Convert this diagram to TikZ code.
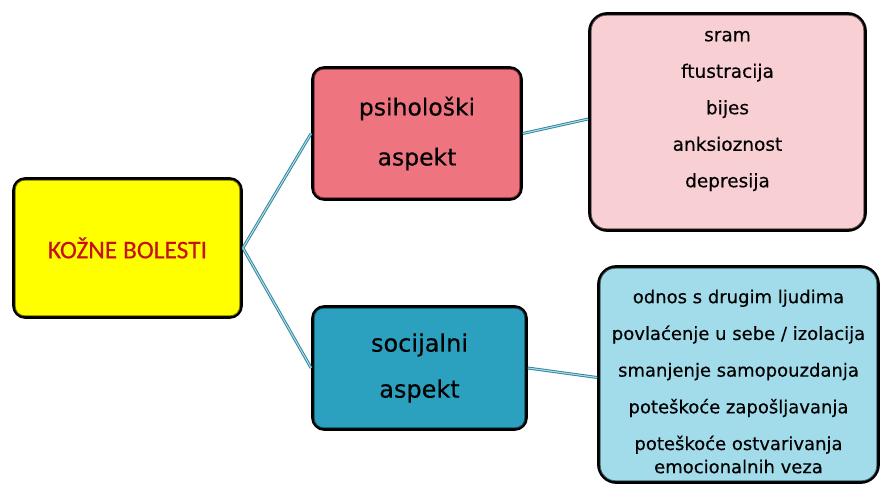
\documentclass[tikz,border=0pt]{standalone}
\usepackage{fontspec}
\setmainfont{DejaVu Sans}[FakeBold=0.4]
\newfontfamily\carl{Carlito}[FakeBold=0.3]
\definecolor{kbY}{RGB}{255,255,0}
\definecolor{kbYd}{RGB}{110,110,0}
\definecolor{kbR}{RGB}{196,18,24}
\definecolor{psiC}{RGB}{238,117,128}
\definecolor{psiD}{RGB}{110,45,50}
\definecolor{psiL}{RGB}{248,208,212}
\definecolor{psiLd}{RGB}{110,85,88}
\definecolor{socC}{RGB}{44,161,191}
\definecolor{socD}{RGB}{18,72,86}
\definecolor{socL}{RGB}{162,220,234}
\definecolor{socLd}{RGB}{60,100,110}
\definecolor{connD}{RGB}{40,130,155}
\definecolor{connL}{RGB}{175,218,230}
\newcommand\innerb[3]{\draw[#2, line width=0.8pt, rounded corners=#3] ([shift={(3.2pt,3.2pt)}]#1.south west) rectangle ([shift={(-3.2pt,-3.2pt)}]#1.north east);}
\begin{document}
\begin{tikzpicture}[x=1pt,y=-1pt,
  box/.style={draw=black, line width=2.8pt, rounded corners=#1, inner sep=0pt, align=center, text=black},
  conn/.style={draw=connD, line width=0.9pt, double=connL, double distance=1.1pt},
  listtxt/.style={align=center, inner sep=0pt, text=black}
]
\useasboundingbox (0,0) rectangle (884,486);
% boxes
\node[box=12pt, fill=kbY, minimum width=228pt, minimum height=139pt,
  font=\carl\fontsize{25.5}{30}\selectfont, text=kbR] (kb) at (127.5,248) {KOŽNE BOLESTI};
\innerb{kb}{kbYd}{9pt}
\node[box=12pt, fill=psiC, minimum width=209pt, minimum height=132pt,
  font=\fontsize{23.5}{50}\selectfont] (psi) at (417,133.5) {psihološki\\aspekt};
\innerb{psi}{psiD}{9pt}
\node[box=12pt, fill=socC, minimum width=214pt, minimum height=123pt,
  font=\fontsize{24}{46}\selectfont] (soc) at (419.5,368) {socijalni\\aspekt};
\innerb{soc}{socD}{9pt}
\node[box=18pt, fill=psiL, minimum width=276pt, minimum height=217pt] (psil) at (727.5,122) {};
\innerb{psil}{psiLd}{15pt}
\node[listtxt, font=\fontsize{18.5}{36.5}\selectfont] (psilT) at ([yshift=11pt]psil.center)
  {sram\\ftustracija\\bijes\\anksioznost\\depresija};
\node[box=18pt, fill=socL, minimum width=280pt, minimum height=216pt] (socl) at (738.5,374.5) {};
\innerb{socl}{socLd}{15pt}
\node[listtxt, font=\fontsize{18}{36.7}\selectfont] (soclT) at ([yshift=-7pt]socl.center)
  {odnos s drugim ljudima\\povlaćenje u sebe / izolacija\\smanjenje samopouzdanja\\poteškoće zapošljavanja\\poteškoće ostvarivanja\\[-13.5pt]emocionalnih veza};
% connectors
\draw[conn] (kb.east) -- (psi.west);
\draw[conn] (kb.east) -- (soc.west);
\draw[conn] (psi.east) -- ([yshift=3pt]psil.west);
\draw[conn] (soc.east) -- ([yshift=-3pt]socl.west);
\end{tikzpicture}
\end{document}
